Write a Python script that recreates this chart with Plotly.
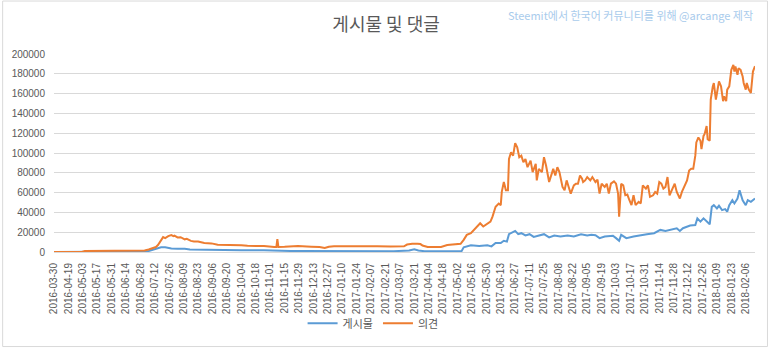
import pandas as pd
import plotly.graph_objects as go

# ---------------- data ----------------
tick_labels = [
    "2016-03-30", "2016-04-19", "2016-05-03", "2016-05-17", "2016-05-31", "2016-06-14",
    "2016-06-28", "2016-07-12", "2016-07-26", "2016-08-09", "2016-08-23", "2016-09-06",
    "2016-09-20", "2016-10-04", "2016-10-18", "2016-11-01", "2016-11-15", "2016-11-29",
    "2016-12-13", "2016-12-27", "2017-01-10", "2017-01-24", "2017-02-07", "2017-02-21",
    "2017-03-07", "2017-03-21", "2017-04-04", "2017-04-18", "2017-05-02", "2017-05-16",
    "2017-05-30", "2017-06-13", "2017-06-27", "2017-07-11", "2017-07-25", "2017-08-08",
    "2017-08-22", "2017-09-05", "2017-09-19", "2017-10-03", "2017-10-17", "2017-10-31",
    "2017-11-14", "2017-11-28", "2017-12-12", "2017-12-26", "2018-01-09", "2018-01-23",
    "2018-02-06",
]

# every day shown on the category axis (first one stands alone, then daily)
categories = ["2016-03-30"] + [d.strftime("%Y-%m-%d")
                               for d in pd.date_range("2016-04-06", "2018-02-15")]

posts_dates = [
    "2016-03-30", "2016-05-02", "2016-05-05", "2016-07-02", "2016-07-06", "2016-07-11",
    "2016-07-14", "2016-07-18", "2016-07-22", "2016-07-28", "2016-08-03", "2016-08-10",
    "2016-08-15", "2016-08-23", "2016-08-26", "2016-10-04", "2016-10-26", "2016-11-05",
    "2016-11-21", "2016-12-01", "2016-12-23", "2016-12-31", "2017-01-30", "2017-03-01",
    "2017-03-16", "2017-03-21", "2017-03-25", "2017-03-31", "2017-05-06", "2017-05-08",
    "2017-05-15", "2017-05-23", "2017-05-31", "2017-06-04", "2017-06-08", "2017-06-13",
    "2017-06-16", "2017-06-19", "2017-06-21", "2017-06-24", "2017-06-27", "2017-06-30",
    "2017-07-03", "2017-07-07", "2017-07-11", "2017-07-15", "2017-07-20", "2017-07-25",
    "2017-07-30", "2017-08-04", "2017-08-10", "2017-08-17", "2017-08-23", "2017-08-30",
    "2017-09-05", "2017-09-09", "2017-09-13", "2017-09-17", "2017-09-22", "2017-09-30",
    "2017-10-03", "2017-10-06", "2017-10-08", "2017-10-13", "2017-10-20", "2017-10-27",
    "2017-11-02", "2017-11-09", "2017-11-15", "2017-11-20", "2017-11-25", "2017-12-01",
    "2017-12-04", "2017-12-07", "2017-12-14", "2017-12-19", "2017-12-21", "2017-12-24",
    "2017-12-27", "2017-12-30", "2018-01-02", "2018-01-04", "2018-01-06", "2018-01-09",
    "2018-01-11", "2018-01-14", "2018-01-17", "2018-01-19", "2018-01-21", "2018-01-24",
    "2018-01-26", "2018-01-29", "2018-01-31", "2018-02-03", "2018-02-06", "2018-02-08",
    "2018-02-11", "2018-02-15",
]
posts_values = [
    0, 0, 300, 500, 1000, 2500,
    4000, 4800, 4700, 3500, 3300, 3300,
    2500, 2300, 2200, 1700, 1700, 1200,
    1000, 1000, 800, 800, 800, 800,
    1500, 2800, 1500, 800, 1000, 4700,
    6700, 6000, 6700, 5700, 9000, 9000,
    11300, 10500, 18000, 20000, 21300, 18000,
    19000, 16700, 18000, 15300, 16700, 18000,
    14700, 16700, 15700, 16700, 15700, 18000,
    16700, 17300, 17000, 14000, 15700, 16500,
    14000, 11300, 17300, 14000, 15700, 17300,
    18000, 19000, 22300, 21300, 22300, 24000,
    21300, 24000, 26700, 27300, 34000, 30700,
    34000, 30700, 28000, 45600, 47300, 44000,
    46700, 42300, 43300, 40700, 47300, 52300,
    49000, 54000, 62300, 52300, 47300, 52300,
    50700, 54000,
]

comments_dates = [
    "2016-03-30", "2016-04-19", "2016-05-02", "2016-05-05", "2016-05-17", "2016-06-04",
    "2016-06-24", "2016-07-02", "2016-07-06", "2016-07-10", "2016-07-13", "2016-07-15",
    "2016-07-17", "2016-07-19", "2016-07-20", "2016-07-22", "2016-07-25", "2016-07-28",
    "2016-07-30", "2016-07-31", "2016-08-03", "2016-08-06", "2016-08-08", "2016-08-10",
    "2016-08-12", "2016-08-16", "2016-08-19", "2016-08-23", "2016-08-29", "2016-09-05",
    "2016-09-11", "2016-09-21", "2016-10-04", "2016-10-10", "2016-10-26", "2016-11-05",
    "2016-11-07", "2016-11-08", "2016-11-09", "2016-11-15", "2016-11-28", "2016-12-11",
    "2016-12-19", "2016-12-24", "2016-12-28", "2017-01-02", "2017-01-15", "2017-01-31",
    "2017-02-13", "2017-02-26", "2017-03-11", "2017-03-14", "2017-03-19", "2017-03-24",
    "2017-03-27", "2017-03-29", "2017-04-03", "2017-04-09", "2017-04-16", "2017-04-22",
    "2017-04-29", "2017-05-05", "2017-05-08", "2017-05-11", "2017-05-15", "2017-05-18",
    "2017-05-21", "2017-05-24", "2017-05-27", "2017-05-31", "2017-06-03", "2017-06-05",
    "2017-06-08", "2017-06-11", "2017-06-13", "2017-06-14", "2017-06-16", "2017-06-18",
    "2017-06-20", "2017-06-21", "2017-06-23", "2017-06-25", "2017-06-27", "2017-06-29",
    "2017-07-01", "2017-07-03", "2017-07-05", "2017-07-07", "2017-07-09", "2017-07-12",
    "2017-07-14", "2017-07-17", "2017-07-18", "2017-07-20", "2017-07-23", "2017-07-25",
    "2017-07-27", "2017-07-30", "2017-08-01", "2017-08-03", "2017-08-05", "2017-08-07",
    "2017-08-09", "2017-08-12", "2017-08-14", "2017-08-16", "2017-08-18", "2017-08-20",
    "2017-08-23", "2017-08-25", "2017-08-27", "2017-08-29", "2017-08-31", "2017-09-01",
    "2017-09-03", "2017-09-05", "2017-09-08", "2017-09-10", "2017-09-13", "2017-09-15",
    "2017-09-17", "2017-09-19", "2017-09-22", "2017-09-24", "2017-09-26", "2017-09-28",
    "2017-10-01", "2017-10-03", "2017-10-05", "2017-10-06", "2017-10-08", "2017-10-10",
    "2017-10-12", "2017-10-14", "2017-10-16", "2017-10-18", "2017-10-20", "2017-10-22",
    "2017-10-25", "2017-10-27", "2017-10-29", "2017-11-01", "2017-11-03", "2017-11-05",
    "2017-11-08", "2017-11-10", "2017-11-12", "2017-11-14", "2017-11-16", "2017-11-18",
    "2017-11-20", "2017-11-22", "2017-11-24", "2017-11-27", "2017-11-29", "2017-12-01",
    "2017-12-04", "2017-12-06", "2017-12-08", "2017-12-11", "2017-12-13", "2017-12-15",
    "2017-12-17", "2017-12-19", "2017-12-20", "2017-12-22", "2017-12-24", "2017-12-25",
    "2017-12-27", "2017-12-28", "2017-12-30", "2017-12-31", "2018-01-02", "2018-01-03",
    "2018-01-05", "2018-01-06", "2018-01-08", "2018-01-10", "2018-01-11", "2018-01-13",
    "2018-01-15", "2018-01-16", "2018-01-18", "2018-01-19", "2018-01-21", "2018-01-23",
    "2018-01-25", "2018-01-26", "2018-01-27", "2018-01-29", "2018-01-30", "2018-02-01",
    "2018-02-03", "2018-02-04", "2018-02-06", "2018-02-07", "2018-02-09", "2018-02-11",
    "2018-02-13", "2018-02-15",
]
comments_values = [
    0, 0, 0, 1000, 1200, 1300,
    1400, 1500, 2500, 3500, 5000, 7000,
    10000, 13500, 15000, 14000, 16000, 17000,
    16000, 16500, 14700, 15000, 13500, 12800,
    13300, 11200, 10700, 10500, 9000, 8700,
    7300, 7300, 6800, 6300, 6000, 5000,
    5000, 13000, 5000, 5200, 6000, 5300,
    5000, 4000, 5300, 5800, 6000, 5800,
    5700, 5500, 5800, 7500, 8300, 8300,
    8000, 6500, 5000, 5000, 5000, 7000,
    7300, 8300, 12300, 17300, 19000, 22300,
    25700, 29000, 25700, 29000, 30700, 35700,
    45700, 49000, 47300, 60700, 70700, 62300,
    62300, 94000, 100700, 97300, 110000, 105700,
    95700, 97300, 90700, 94000, 85700, 92300,
    80700, 89000, 72300, 84000, 80700, 95700,
    87300, 70700, 77300, 84000, 77300, 85700,
    80700, 65700, 62300, 72300, 65700, 59000,
    67300, 69000, 69000, 77300, 74000, 70700,
    72300, 75700, 72300, 75700, 70700, 73000,
    59000, 69000, 65700, 69000, 59000, 69000,
    71300, 69000, 59000, 35700, 69000, 67300,
    57300, 58000, 52300, 47300, 57300, 47300,
    50700, 49000, 67300, 64000, 67300, 55700,
    57300, 60700, 59000, 70700, 69000, 64000,
    65700, 75700, 57300, 64000, 69000, 60700,
    54000, 60700, 65700, 72300, 82300, 84000,
    84000, 97300, 110700, 115700, 112300, 104000,
    117300, 119000, 127300, 114000, 112300, 154000,
    167300, 170700, 154000, 164000, 172300, 167300,
    152300, 157300, 152300, 164000, 167300, 184000,
    189000, 182300, 187300, 179000, 185700, 184000,
    177300, 170700, 164000, 170700, 164000, 160700,
    182300, 187700,
]

series_names = ["게시물", "의견"]
y_ticks = [0, 20000, 40000, 60000, 80000, 100000, 120000, 140000, 160000, 180000, 200000]

# ---------------- figure ----------------
W, H = 768, 350
ML, MR, MT, MB = 52, 13, 54, 96
TEXT = "#595959"
GRID = "#d9d9d9"
FONT = "Noto Sans CJK KR, Liberation Sans, Arial, sans-serif"

fig = go.Figure()
fig.add_trace(go.Scatter(x=posts_dates, y=posts_values, name=series_names[0],
                         mode="lines", line=dict(color="#5b9bd5", width=2)))
fig.add_trace(go.Scatter(x=comments_dates, y=comments_values, name=series_names[1],
                         mode="lines", line=dict(color="#ed7d31", width=2)))

pw = W - ML - MR
ph = H - MT - MB
fig.add_shape(type="rect", xref="paper", yref="paper",
              x0=(0.5 - ML) / pw, x1=(W - 0.5 - ML) / pw,
              y0=(MT + ph - (H - 0.5)) / ph, y1=(MT + ph - 0.5) / ph,
              line=dict(color=GRID, width=1), fillcolor="rgba(0,0,0,0)", layer="below")

fig.update_layout(
    width=W, height=H,
    margin=dict(l=ML, r=MR, t=MT, b=MB),
    paper_bgcolor="white", plot_bgcolor="white",
    font=dict(family=FONT, color=TEXT, size=10),
    title=dict(text="게시물 및 댓글", x=(385 - ML) / pw, xref="paper", xanchor="center",
               y=1 - 25 / H, yanchor="middle",
               font=dict(size=18, color=TEXT, family=FONT)),
    showlegend=True,
    legend=dict(orientation="h", x=(372 - ML) / pw, xanchor="center", y=(ph - (326 - MT)) / ph,
                yanchor="middle", font=dict(size=11, color=TEXT, family=FONT),
                bgcolor="rgba(0,0,0,0)"),
    xaxis=dict(type="category", categoryorder="array", categoryarray=categories,
               range=[0, len(categories) - 1],
               tickmode="array", tickvals=tick_labels, ticktext=tick_labels,
               tickangle=-90, tickfont=dict(size=10, color=TEXT, family="Liberation Sans, Arial"),
               showgrid=False, showline=False, zeroline=False, ticks="",
               ticklabelstandoff=8),
    yaxis=dict(range=[0, 200000], tickmode="array", tickvals=y_ticks,
               ticktext=[str(v) for v in y_ticks],
               tickfont=dict(size=10, color=TEXT, family="Liberation Sans, Arial"),
               showgrid=True, gridcolor=GRID, gridwidth=1,
               zeroline=True, zerolinecolor=GRID, zerolinewidth=1,
               showline=False, ticks="", ticklabelstandoff=8),
)

fig.add_annotation(text="Steemit에서 한국어 커뮤니티를 위해 @arcange 제작",
                   xref="paper", yref="paper", x=(755 - ML) / pw, xanchor="right",
                   y=(ph + MT - 15) / ph, yanchor="middle", showarrow=False,
                   font=dict(size=11, color="#a9cbec", family=FONT))

fig.write_html("out.html")
